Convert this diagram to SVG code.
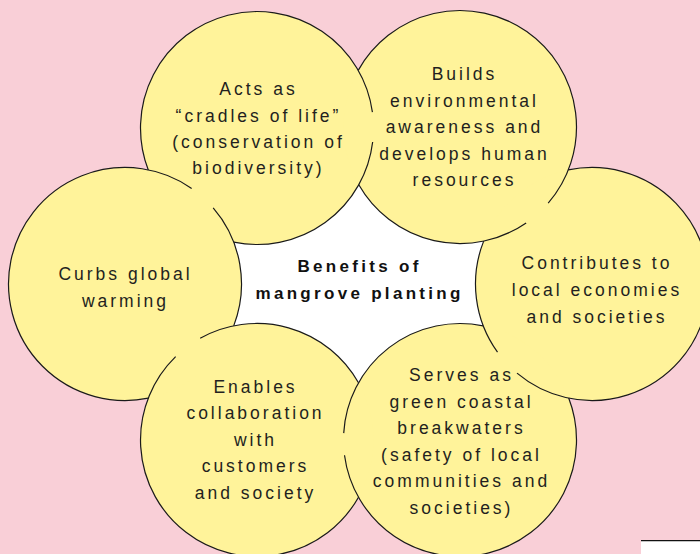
<svg xmlns="http://www.w3.org/2000/svg" width="700" height="554" viewBox="0 0 700 554">
<style>
.fill{fill:#fff39a;stroke:none}
.ol{fill:none;stroke:#1a1a1a;stroke-width:1.2}
.t{font-family:"Liberation Sans",Arial,sans-serif;font-size:17.5px;letter-spacing:3px;fill:#231f20;text-anchor:middle}
.c{font-family:"Liberation Sans",Arial,sans-serif;font-size:17px;font-weight:bold;letter-spacing:3.3px;fill:#111;text-anchor:middle}
</style>
<rect x="0" y="0" width="700" height="554" fill="#f9cfd7"/>
<polygon points="257,128 460,127 592,284 460,440 257,440 125,284" fill="#ffffff"/>
<rect x="641" y="540" width="59" height="14" fill="#ffffff"/>
<line x1="641" y1="540.6" x2="700" y2="540.6" stroke="#111" stroke-width="1.3"/>

<g id="node-acts">
<circle class="fill" cx="257" cy="128" r="116.5"/>
<text class="t" x="258.5"><tspan x="258.5" y="95">Acts as</tspan><tspan x="258.5" y="122">“cradles of life”</tspan><tspan x="258.5" y="148">(conservation of</tspan><tspan x="258.5" y="174">biodiversity)</tspan></text>
</g>
<g id="node-builds">
<circle class="fill" cx="460" cy="127" r="116.5"/>
<text class="t"><tspan x="464.5" y="80">Builds</tspan><tspan x="464.5" y="107">environmental</tspan><tspan x="464.5" y="133">awareness and</tspan><tspan x="464.5" y="160">develops human</tspan><tspan x="464.5" y="186">resources</tspan></text>
</g>
<g id="node-contributes">
<circle class="fill" cx="592" cy="284" r="116.5"/>
<text class="t"><tspan x="597" y="269">Contributes to</tspan><tspan x="597" y="296">local economies</tspan><tspan x="597" y="323">and societies</tspan></text>
</g>
<g id="node-serves">
<circle class="fill" cx="460" cy="440" r="116.5"/>
<text class="t"><tspan x="461.5" y="381">Serves as</tspan><tspan x="461.5" y="408">green coastal</tspan><tspan x="461.5" y="434">breakwaters</tspan><tspan x="461.5" y="461">(safety of local</tspan><tspan x="461.5" y="487">communities and</tspan><tspan x="461.5" y="514">societies)</tspan></text>
</g>
<g id="node-enables">
<circle class="fill" cx="257" cy="440" r="116.5"/>
<text class="t"><tspan x="255.5" y="393">Enables</tspan><tspan x="255.5" y="419">collaboration</tspan><tspan x="255.5" y="446">with</tspan><tspan x="255.5" y="472">customers</tspan><tspan x="255.5" y="499">and society</tspan></text>
</g>
<g id="node-curbs">
<circle class="fill" cx="125" cy="284" r="116.5"/>
<text class="t"><tspan x="125.5" y="280">Curbs global</tspan><tspan x="125.5" y="306.5">warming</tspan></text>
</g>

<g id="node-center">
<text class="c"><tspan x="359.6" y="272">Benefits of</tspan><tspan x="359.6" y="299">mangrove planting</tspan></text>
</g>

<g id="connectors">
<path class="ol" d="M372.66 141.96 A116.5 116.5 0 0 1 233.77 242.16"/>
<path class="ol" d="M148.31 169.94 A116.5 116.5 0 1 1 372.41 112.09"/>
<path class="ol" d="M526.15 222.90 A116.5 116.5 0 0 1 358.80 184.72"/>
<path class="ol" d="M358.20 70.34 A116.5 116.5 0 1 1 548.19 203.12"/>
<path class="ol" d="M497.51 352.15 A116.5 116.5 0 0 1 483.68 241.11"/>
<path class="ol" d="M568.18 169.96 A116.5 116.5 0 1 1 516.99 373.14"/>
<path class="ol" d="M343.71 433.09 A116.5 116.5 0 0 1 483.23 325.84"/>
<path class="ol" d="M568.69 398.06 A116.5 116.5 0 1 1 344.50 455.21"/>
<path class="ol" d="M358.50 497.19 A116.5 116.5 0 1 1 175.63 356.62"/>
<path class="ol" d="M200.16 338.30 A116.5 116.5 0 0 1 358.50 382.81"/>
<path class="ol" d="M148.31 398.15 A116.5 116.5 0 1 1 191.66 188.45"/>
<path class="ol" d="M213.19 207.88 A116.5 116.5 0 0 1 233.72 325.86"/>
</g>
</svg>
